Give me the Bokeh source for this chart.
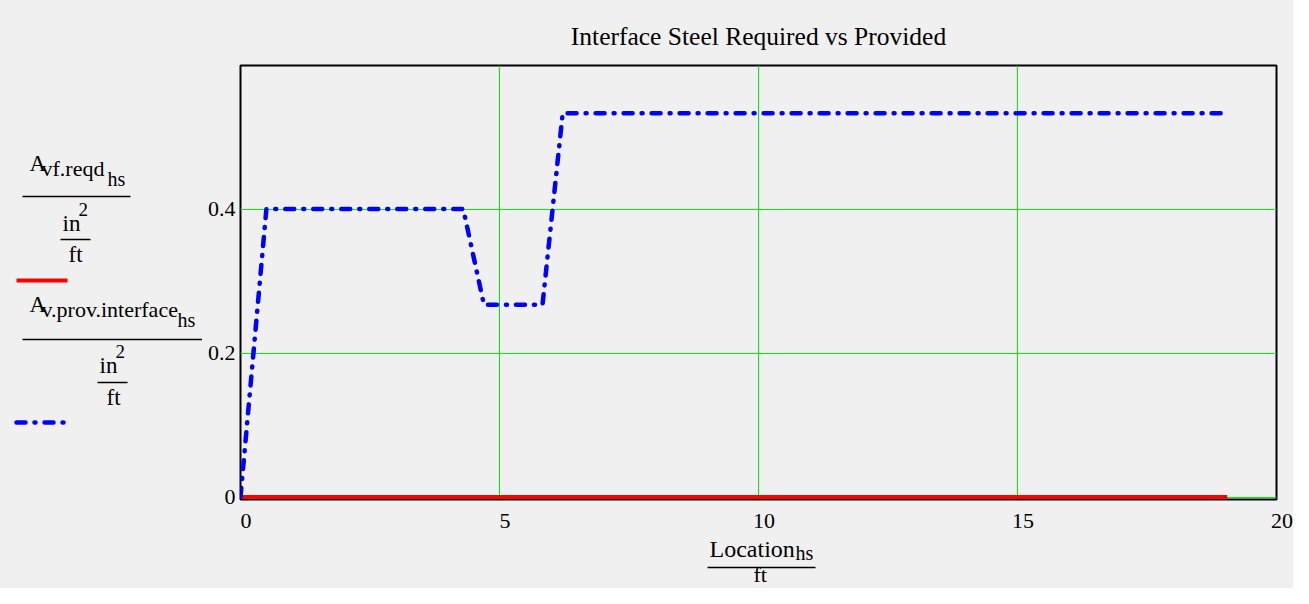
from bokeh.plotting import figure
from bokeh.layouts import row, column
from bokeh.models import Range1d, FixedTicker
from bokeh.core.properties import value
from bokeh.embed import file_html
from bokeh.resources import INLINE

# ---- data ----
location_ft = [0, 0.5, 4.3, 4.7, 5.83, 6.22, 19.05]
av_prov_interface = [0, 0.4, 0.4, 0.267, 0.267, 0.533, 0.533]
av_reqd = [0, 0, 0, 0, 0, 0, 0]
x_ticks = [0, 5, 10, 15, 20]
x_tick_labels = ["0", "5", "10", "15", "20"]
y_ticks = [0, 0.2, 0.4]
title_text = "Interface Steel Required vs Provided"

BG = "#f0f0f0"
FONT = value("Liberation Serif")
GRID = "#00ee00"
BLUE_DASH = "9 9 1 9"
TXT_DY = -9  # baseline correction for text glyphs
FIG_SPACE = "\u2007"  # original tick labels sit slightly right of their ticks

W, H = 1293, 588
LEG_W = 202
TOP_H = 535
XL_H = H - TOP_H
MB_TOP, MB_BOT = 65, 36
FRAME_W = 1036
FRAME_H = TOP_H - MB_TOP - MB_BOT
PX_Y = 720.0
y0 = -2.5 / PX_Y

# ---- main figure ----
p = figure(width=W - LEG_W, height=TOP_H, output_backend="svg", toolbar_location=None,
           x_range=Range1d(0, 20), y_range=Range1d(y0, y0 + FRAME_H / PX_Y),
           min_border_left=38, min_border_right=W - LEG_W - 38 - FRAME_W,
           min_border_top=MB_TOP, min_border_bottom=MB_BOT,
           background_fill_color=BG, border_fill_color=BG)
p.title.text = title_text
p.title.align = "center"
p.title.text_font = "Liberation Serif"
p.title.text_font_size = "25.5px"
p.title.text_font_style = "normal"
p.title.text_color = "black"
p.title.standoff = 29

p.outline_line_color = "black"
p.outline_line_width = 2

p.xaxis.ticker = FixedTicker(ticks=x_ticks)
p.yaxis.ticker = FixedTicker(ticks=y_ticks)
p.xaxis.major_label_overrides = {t: FIG_SPACE + s for t, s in zip(x_ticks, x_tick_labels)}
p.xgrid.grid_line_color = GRID
p.ygrid.grid_line_color = GRID
p.xgrid.grid_line_width = 1
p.ygrid.grid_line_width = 1

for ax in list(p.yaxis) + list(p.xaxis):
    ax.axis_line_color = None
    ax.major_tick_line_color = None
    ax.minor_tick_line_color = None
    ax.major_tick_out = 0
    ax.major_tick_in = 0
    ax.minor_tick_out = 0
    ax.minor_tick_in = 0
    ax.major_label_text_font = "Liberation Serif"
    ax.major_label_text_font_size = "22px"
    ax.major_label_text_color = "black"
p.yaxis.major_label_standoff = 5
p.xaxis.major_label_standoff = 8

p.line(location_ft, av_reqd, line_color="#ff0000", line_width=4)
p.line(location_ft, av_prov_interface, line_color="#0000ff", line_width=4.5,
       line_dash=BLUE_DASH, line_cap="round", line_join="round")

# ---- legend figure (pixel coordinates, y down) ----
lg = figure(width=LEG_W, height=TOP_H, output_backend="svg", toolbar_location=None,
            x_range=Range1d(0, LEG_W), y_range=Range1d(TOP_H - MB_BOT, MB_TOP),
            min_border_left=0, min_border_right=0, min_border_top=MB_TOP, min_border_bottom=MB_BOT,
            background_fill_color=BG, border_fill_color=BG)
lg.axis.visible = False
lg.grid.visible = False
lg.outline_line_color = None


def txt(f, x, y, s, size):
    f.text([x], [y + TXT_DY], text=[s], text_font=FONT, text_font_size=f"{size}px",
           text_color="black", text_baseline="alphabetic", text_align="left")


def hbar(f, x0_, x1_, y, **kw):
    f.line([x0_, x1_], [y, y], **kw)


# item 1
txt(lg, 29, 172, "A", 23)
txt(lg, 41, 177, "vf.reqd", 22)
txt(lg, 107, 187, "hs", 20)
hbar(lg, 22, 130, 196, line_color="black", line_width=1.5)
txt(lg, 62, 232, "in", 23)
txt(lg, 78, 218, "2", 19)
hbar(lg, 60, 90, 239, line_color="black", line_width=1.5)
txt(lg, 68, 263, "ft", 23)
hbar(lg, 16, 67, 280, line_color="#ff0000", line_width=4)
# item 2
txt(lg, 29, 313, "A", 23)
txt(lg, 41, 318, "v.prov.interface", 22)
txt(lg, 177, 328, "hs", 20)
hbar(lg, 22, 202, 339, line_color="black", line_width=1.5)
txt(lg, 99, 374, "in", 23)
txt(lg, 115, 360, "2", 19)
hbar(lg, 97, 127, 382, line_color="black", line_width=1.5)
txt(lg, 106, 406, "ft", 23)
hbar(lg, 16, 67, 422, line_color="#0000ff", line_width=4.5, line_dash=BLUE_DASH, line_cap="round")

# ---- x-axis label figure ----
xl = figure(width=W, height=XL_H, output_backend="svg", toolbar_location=None,
            x_range=Range1d(0, W), y_range=Range1d(H, TOP_H),
            min_border=0, background_fill_color=BG, border_fill_color=BG)
xl.axis.visible = False
xl.grid.visible = False
xl.outline_line_color = None
txt(xl, 709, 557, "Location", 24)
txt(xl, 795, 561, "hs", 20)
hbar(xl, 707, 815, 567, line_color="black", line_width=1.5)
txt(xl, 753, 583, "ft", 22)

layout = column(row(lg, p, spacing=0, styles={"background-color": BG}), xl, spacing=0,
                styles={"background-color": BG})
open("out.html", "w").write(file_html(layout, INLINE))
